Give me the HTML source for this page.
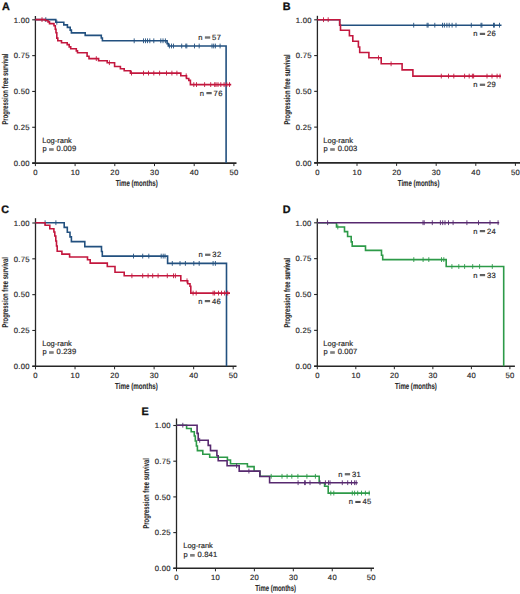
<!DOCTYPE html>
<html><head><meta charset="utf-8"><style>
html,body{margin:0;padding:0;background:#fff;}
svg{display:block;font-family:"Liberation Sans", sans-serif;text-rendering:geometricPrecision;}
</style></head><body>
<svg width="520" height="594" viewBox="0 0 520 594">
<rect width="520" height="594" fill="#fff"/>
<text x="2.0" y="9.5" font-size="10.8" font-weight="bold" fill="#111" stroke="#111" stroke-width="0.3">A</text>
<line x1="35.4" y1="16.0" x2="35.4" y2="163.1" stroke="#262626" stroke-width="1.3"/>
<line x1="32.20" y1="163.1" x2="236.5" y2="163.1" stroke="#262626" stroke-width="1.6"/>
<line x1="32.20" y1="19.80" x2="35.4" y2="19.80" stroke="#262626" stroke-width="1.1"/>
<text x="29.80" y="22.55" font-size="7.7" text-anchor="end" fill="#2a2a2a" stroke="#2a2a2a" stroke-width="0.18" letter-spacing="0.3">1.00</text>
<line x1="32.20" y1="55.62" x2="35.4" y2="55.62" stroke="#262626" stroke-width="1.1"/>
<text x="29.80" y="58.38" font-size="7.7" text-anchor="end" fill="#2a2a2a" stroke="#2a2a2a" stroke-width="0.18" letter-spacing="0.3">0.75</text>
<line x1="32.20" y1="91.45" x2="35.4" y2="91.45" stroke="#262626" stroke-width="1.1"/>
<text x="29.80" y="94.20" font-size="7.7" text-anchor="end" fill="#2a2a2a" stroke="#2a2a2a" stroke-width="0.18" letter-spacing="0.3">0.50</text>
<line x1="32.20" y1="127.27" x2="35.4" y2="127.27" stroke="#262626" stroke-width="1.1"/>
<text x="29.80" y="130.02" font-size="7.7" text-anchor="end" fill="#2a2a2a" stroke="#2a2a2a" stroke-width="0.18" letter-spacing="0.3">0.25</text>
<line x1="32.20" y1="163.10" x2="35.4" y2="163.10" stroke="#262626" stroke-width="1.1"/>
<text x="29.80" y="165.85" font-size="7.7" text-anchor="end" fill="#2a2a2a" stroke="#2a2a2a" stroke-width="0.18" letter-spacing="0.3">0.00</text>
<line x1="35.40" y1="163.1" x2="35.40" y2="166.1" stroke="#262626" stroke-width="1.0"/>
<text x="35.55" y="175.00" font-size="7.7" text-anchor="middle" fill="#2a2a2a" stroke="#2a2a2a" stroke-width="0.18" letter-spacing="0.3">0</text>
<line x1="75.10" y1="163.1" x2="75.10" y2="166.1" stroke="#262626" stroke-width="1.0"/>
<text x="75.25" y="175.00" font-size="7.7" text-anchor="middle" fill="#2a2a2a" stroke="#2a2a2a" stroke-width="0.18" letter-spacing="0.3">10</text>
<line x1="114.80" y1="163.1" x2="114.80" y2="166.1" stroke="#262626" stroke-width="1.0"/>
<text x="114.95" y="175.00" font-size="7.7" text-anchor="middle" fill="#2a2a2a" stroke="#2a2a2a" stroke-width="0.18" letter-spacing="0.3">20</text>
<line x1="154.50" y1="163.1" x2="154.50" y2="166.1" stroke="#262626" stroke-width="1.0"/>
<text x="154.65" y="175.00" font-size="7.7" text-anchor="middle" fill="#2a2a2a" stroke="#2a2a2a" stroke-width="0.18" letter-spacing="0.3">30</text>
<line x1="194.20" y1="163.1" x2="194.20" y2="166.1" stroke="#262626" stroke-width="1.0"/>
<text x="194.35" y="175.00" font-size="7.7" text-anchor="middle" fill="#2a2a2a" stroke="#2a2a2a" stroke-width="0.18" letter-spacing="0.3">40</text>
<line x1="233.90" y1="163.1" x2="233.90" y2="166.1" stroke="#262626" stroke-width="1.0"/>
<text x="234.05" y="175.00" font-size="7.7" text-anchor="middle" fill="#2a2a2a" stroke="#2a2a2a" stroke-width="0.18" letter-spacing="0.3">50</text>
<text x="115.70" y="185.80" font-size="8.6" font-weight="bold" fill="#2a2a2a" stroke="#2a2a2a" stroke-width="0.1" textLength="42.00" lengthAdjust="spacingAndGlyphs">Time (months)</text>
<text transform="translate(7.70,124.60) rotate(-90)" x="0" y="0" font-size="8.5" font-weight="bold" fill="#2a2a2a" stroke="#2a2a2a" stroke-width="0.1" textLength="71.10" lengthAdjust="spacingAndGlyphs">Progression free survival</text>
<path d="M35.4,19.6 H55.8 V22.3 H63.8 V24.9 H67.4 V27.4 H70.2 V30.1 H71.4 V32.9 H85.2 V35.4 H101.3 V38.0 H102.4 V40.8 H167.1 V43.6 H168.3 V46.0 H226.1 V163.1" fill="none" stroke="#22507f" stroke-width="1.6"/>
<line x1="45.8" y1="17.20" x2="45.8" y2="22.00" stroke="#22507f" stroke-width="0.9"/>
<line x1="56.8" y1="19.90" x2="56.8" y2="24.70" stroke="#22507f" stroke-width="0.9"/>
<line x1="134.2" y1="38.40" x2="134.2" y2="43.20" stroke="#22507f" stroke-width="0.9"/>
<line x1="143.5" y1="38.40" x2="143.5" y2="43.20" stroke="#22507f" stroke-width="0.9"/>
<line x1="145.5" y1="38.40" x2="145.5" y2="43.20" stroke="#22507f" stroke-width="0.9"/>
<line x1="147.5" y1="38.40" x2="147.5" y2="43.20" stroke="#22507f" stroke-width="0.9"/>
<line x1="149.8" y1="38.40" x2="149.8" y2="43.20" stroke="#22507f" stroke-width="0.9"/>
<line x1="153.8" y1="38.40" x2="153.8" y2="43.20" stroke="#22507f" stroke-width="0.9"/>
<line x1="160.8" y1="38.40" x2="160.8" y2="43.20" stroke="#22507f" stroke-width="0.9"/>
<line x1="163" y1="38.40" x2="163" y2="43.20" stroke="#22507f" stroke-width="0.9"/>
<line x1="165.4" y1="38.40" x2="165.4" y2="43.20" stroke="#22507f" stroke-width="0.9"/>
<line x1="169.4" y1="43.60" x2="169.4" y2="48.40" stroke="#22507f" stroke-width="0.9"/>
<line x1="171.5" y1="43.60" x2="171.5" y2="48.40" stroke="#22507f" stroke-width="0.9"/>
<line x1="173.5" y1="43.60" x2="173.5" y2="48.40" stroke="#22507f" stroke-width="0.9"/>
<line x1="181.7" y1="43.60" x2="181.7" y2="48.40" stroke="#22507f" stroke-width="0.9"/>
<line x1="185.8" y1="43.60" x2="185.8" y2="48.40" stroke="#22507f" stroke-width="0.9"/>
<line x1="186.8" y1="43.60" x2="186.8" y2="48.40" stroke="#22507f" stroke-width="0.9"/>
<line x1="194.5" y1="43.60" x2="194.5" y2="48.40" stroke="#22507f" stroke-width="0.9"/>
<line x1="199.2" y1="43.60" x2="199.2" y2="48.40" stroke="#22507f" stroke-width="0.9"/>
<line x1="212" y1="43.60" x2="212" y2="48.40" stroke="#22507f" stroke-width="0.9"/>
<line x1="213.7" y1="43.60" x2="213.7" y2="48.40" stroke="#22507f" stroke-width="0.9"/>
<line x1="215.4" y1="43.60" x2="215.4" y2="48.40" stroke="#22507f" stroke-width="0.9"/>
<line x1="220.1" y1="43.60" x2="220.1" y2="48.40" stroke="#22507f" stroke-width="0.9"/>
<path d="M35.4,19.6 H45.3 V20.5 H48 V21.9 H49.5 V23.6 H54 V25.8 H55.3 V29.2 H56 V32.7 H56.8 V38.1 H57.8 V40.8 H61.5 V42.7 H67.2 V44.6 H69.2 V46.9 H70.7 V48.8 H76.3 V50.9 H77.5 V52.8 H87.1 V56.3 H89 V58.6 H98.6 V60.8 H107.2 V62.7 H114.6 V66.5 H120.4 V68.7 H124.2 V70.8 H130.4 V73.1 H180.8 V75.8 H186.5 V78.5 H188.8 V80.4 H190.4 V84.6 H231.2" fill="none" stroke="#c3173e" stroke-width="1.6"/>
<line x1="42" y1="17.20" x2="42" y2="22.00" stroke="#c3173e" stroke-width="0.9"/>
<line x1="96.3" y1="56.20" x2="96.3" y2="61.00" stroke="#c3173e" stroke-width="0.9"/>
<line x1="109.4" y1="60.30" x2="109.4" y2="65.10" stroke="#c3173e" stroke-width="0.9"/>
<line x1="131.5" y1="70.70" x2="131.5" y2="75.50" stroke="#c3173e" stroke-width="0.9"/>
<line x1="143.5" y1="70.70" x2="143.5" y2="75.50" stroke="#c3173e" stroke-width="0.9"/>
<line x1="148.5" y1="70.70" x2="148.5" y2="75.50" stroke="#c3173e" stroke-width="0.9"/>
<line x1="153.8" y1="70.70" x2="153.8" y2="75.50" stroke="#c3173e" stroke-width="0.9"/>
<line x1="159.6" y1="70.70" x2="159.6" y2="75.50" stroke="#c3173e" stroke-width="0.9"/>
<line x1="166.5" y1="70.70" x2="166.5" y2="75.50" stroke="#c3173e" stroke-width="0.9"/>
<line x1="171.9" y1="70.70" x2="171.9" y2="75.50" stroke="#c3173e" stroke-width="0.9"/>
<line x1="176.9" y1="70.70" x2="176.9" y2="75.50" stroke="#c3173e" stroke-width="0.9"/>
<line x1="186.2" y1="73.40" x2="186.2" y2="78.20" stroke="#c3173e" stroke-width="0.9"/>
<line x1="193.8" y1="82.20" x2="193.8" y2="87.00" stroke="#c3173e" stroke-width="0.9"/>
<line x1="196.5" y1="82.20" x2="196.5" y2="87.00" stroke="#c3173e" stroke-width="0.9"/>
<line x1="204.6" y1="82.20" x2="204.6" y2="87.00" stroke="#c3173e" stroke-width="0.9"/>
<line x1="210.7" y1="82.20" x2="210.7" y2="87.00" stroke="#c3173e" stroke-width="0.9"/>
<line x1="214.7" y1="82.20" x2="214.7" y2="87.00" stroke="#c3173e" stroke-width="0.9"/>
<line x1="216" y1="82.20" x2="216" y2="87.00" stroke="#c3173e" stroke-width="0.9"/>
<line x1="218" y1="82.20" x2="218" y2="87.00" stroke="#c3173e" stroke-width="0.9"/>
<line x1="220.8" y1="82.20" x2="220.8" y2="87.00" stroke="#c3173e" stroke-width="0.9"/>
<line x1="224.1" y1="82.20" x2="224.1" y2="87.00" stroke="#c3173e" stroke-width="0.9"/>
<line x1="226.8" y1="82.20" x2="226.8" y2="87.00" stroke="#c3173e" stroke-width="0.9"/>
<line x1="229.5" y1="82.20" x2="229.5" y2="87.00" stroke="#c3173e" stroke-width="0.9"/>
<text x="198.30" y="39.80" font-size="7.6" text-anchor="start" fill="#2a2a2a" stroke="#2a2a2a" stroke-width="0.18" >n</text>
<rect x="204.90" y="36.55" width="5.3" height="0.85" fill="#2a2a2a"/>
<rect x="204.90" y="37.60" width="5.3" height="0.85" fill="#2a2a2a"/>
<text x="212.00" y="39.80" font-size="7.6" text-anchor="start" fill="#2a2a2a" stroke="#2a2a2a" stroke-width="0.18" letter-spacing="0.5">57</text>
<text x="199.80" y="95.50" font-size="7.6" text-anchor="start" fill="#2a2a2a" stroke="#2a2a2a" stroke-width="0.18" >n</text>
<rect x="206.40" y="92.25" width="5.3" height="0.85" fill="#2a2a2a"/>
<rect x="206.40" y="93.30" width="5.3" height="0.85" fill="#2a2a2a"/>
<text x="213.50" y="95.50" font-size="7.6" text-anchor="start" fill="#2a2a2a" stroke="#2a2a2a" stroke-width="0.18" letter-spacing="0.5">76</text>
<text x="42.25" y="142.50" font-size="7.5" text-anchor="start" fill="#2a2a2a" stroke="#2a2a2a" stroke-width="0.18" >Log-rank</text>
<text x="42.40" y="151.40" font-size="7.5" text-anchor="start" fill="#2a2a2a" stroke="#2a2a2a" stroke-width="0.18" >p</text>
<rect x="49.10" y="148.50" width="4.6" height="0.85" fill="#2a2a2a"/>
<rect x="49.10" y="149.65" width="4.6" height="0.85" fill="#2a2a2a"/>
<text x="56.60" y="151.40" font-size="7.6" text-anchor="start" fill="#2a2a2a" stroke="#2a2a2a" stroke-width="0.18" letter-spacing="0.15">0.009</text>
<text x="282.8" y="9.6" font-size="10.8" font-weight="bold" fill="#111" stroke="#111" stroke-width="0.3">B</text>
<line x1="317.4" y1="15.8" x2="317.4" y2="162.9" stroke="#262626" stroke-width="1.3"/>
<line x1="314.20" y1="162.9" x2="520" y2="162.9" stroke="#262626" stroke-width="1.6"/>
<line x1="314.20" y1="19.80" x2="317.4" y2="19.80" stroke="#262626" stroke-width="1.1"/>
<text x="311.80" y="22.55" font-size="7.7" text-anchor="end" fill="#2a2a2a" stroke="#2a2a2a" stroke-width="0.18" letter-spacing="0.3">1.00</text>
<line x1="314.20" y1="55.58" x2="317.4" y2="55.58" stroke="#262626" stroke-width="1.1"/>
<text x="311.80" y="58.33" font-size="7.7" text-anchor="end" fill="#2a2a2a" stroke="#2a2a2a" stroke-width="0.18" letter-spacing="0.3">0.75</text>
<line x1="314.20" y1="91.35" x2="317.4" y2="91.35" stroke="#262626" stroke-width="1.1"/>
<text x="311.80" y="94.10" font-size="7.7" text-anchor="end" fill="#2a2a2a" stroke="#2a2a2a" stroke-width="0.18" letter-spacing="0.3">0.50</text>
<line x1="314.20" y1="127.12" x2="317.4" y2="127.12" stroke="#262626" stroke-width="1.1"/>
<text x="311.80" y="129.88" font-size="7.7" text-anchor="end" fill="#2a2a2a" stroke="#2a2a2a" stroke-width="0.18" letter-spacing="0.3">0.25</text>
<line x1="314.20" y1="162.90" x2="317.4" y2="162.90" stroke="#262626" stroke-width="1.1"/>
<text x="311.80" y="165.65" font-size="7.7" text-anchor="end" fill="#2a2a2a" stroke="#2a2a2a" stroke-width="0.18" letter-spacing="0.3">0.00</text>
<line x1="317.40" y1="162.9" x2="317.40" y2="165.9" stroke="#262626" stroke-width="1.0"/>
<text x="317.55" y="174.80" font-size="7.7" text-anchor="middle" fill="#2a2a2a" stroke="#2a2a2a" stroke-width="0.18" letter-spacing="0.3">0</text>
<line x1="357.00" y1="162.9" x2="357.00" y2="165.9" stroke="#262626" stroke-width="1.0"/>
<text x="357.15" y="174.80" font-size="7.7" text-anchor="middle" fill="#2a2a2a" stroke="#2a2a2a" stroke-width="0.18" letter-spacing="0.3">10</text>
<line x1="396.60" y1="162.9" x2="396.60" y2="165.9" stroke="#262626" stroke-width="1.0"/>
<text x="396.75" y="174.80" font-size="7.7" text-anchor="middle" fill="#2a2a2a" stroke="#2a2a2a" stroke-width="0.18" letter-spacing="0.3">20</text>
<line x1="436.20" y1="162.9" x2="436.20" y2="165.9" stroke="#262626" stroke-width="1.0"/>
<text x="436.35" y="174.80" font-size="7.7" text-anchor="middle" fill="#2a2a2a" stroke="#2a2a2a" stroke-width="0.18" letter-spacing="0.3">30</text>
<line x1="475.80" y1="162.9" x2="475.80" y2="165.9" stroke="#262626" stroke-width="1.0"/>
<text x="475.95" y="174.80" font-size="7.7" text-anchor="middle" fill="#2a2a2a" stroke="#2a2a2a" stroke-width="0.18" letter-spacing="0.3">40</text>
<line x1="515.40" y1="162.9" x2="515.40" y2="165.9" stroke="#262626" stroke-width="1.0"/>
<text x="515.55" y="174.80" font-size="7.7" text-anchor="middle" fill="#2a2a2a" stroke="#2a2a2a" stroke-width="0.18" letter-spacing="0.3">50</text>
<text x="397.80" y="185.90" font-size="8.6" font-weight="bold" fill="#2a2a2a" stroke="#2a2a2a" stroke-width="0.1" textLength="41.60" lengthAdjust="spacingAndGlyphs">Time (months)</text>
<text transform="translate(290.00,124.60) rotate(-90)" x="0" y="0" font-size="8.5" font-weight="bold" fill="#2a2a2a" stroke="#2a2a2a" stroke-width="0.1" textLength="70.10" lengthAdjust="spacingAndGlyphs">Progression free survival</text>
<path d="M317.4,19.7 H339.7 V25.2 H501.5" fill="none" stroke="#22507f" stroke-width="1.6"/>
<line x1="413.7" y1="22.80" x2="413.7" y2="27.60" stroke="#22507f" stroke-width="0.9"/>
<line x1="427.1" y1="22.80" x2="427.1" y2="27.60" stroke="#22507f" stroke-width="0.9"/>
<line x1="428.1" y1="22.80" x2="428.1" y2="27.60" stroke="#22507f" stroke-width="0.9"/>
<line x1="434.8" y1="22.80" x2="434.8" y2="27.60" stroke="#22507f" stroke-width="0.9"/>
<line x1="442.5" y1="22.80" x2="442.5" y2="27.60" stroke="#22507f" stroke-width="0.9"/>
<line x1="444.4" y1="22.80" x2="444.4" y2="27.60" stroke="#22507f" stroke-width="0.9"/>
<line x1="446.9" y1="22.80" x2="446.9" y2="27.60" stroke="#22507f" stroke-width="0.9"/>
<line x1="449.2" y1="22.80" x2="449.2" y2="27.60" stroke="#22507f" stroke-width="0.9"/>
<line x1="452.1" y1="22.80" x2="452.1" y2="27.60" stroke="#22507f" stroke-width="0.9"/>
<line x1="456" y1="22.80" x2="456" y2="27.60" stroke="#22507f" stroke-width="0.9"/>
<line x1="471.3" y1="22.80" x2="471.3" y2="27.60" stroke="#22507f" stroke-width="0.9"/>
<line x1="481" y1="22.80" x2="481" y2="27.60" stroke="#22507f" stroke-width="0.9"/>
<line x1="481.9" y1="22.80" x2="481.9" y2="27.60" stroke="#22507f" stroke-width="0.9"/>
<line x1="493.5" y1="22.80" x2="493.5" y2="27.60" stroke="#22507f" stroke-width="0.9"/>
<line x1="494.4" y1="22.80" x2="494.4" y2="27.60" stroke="#22507f" stroke-width="0.9"/>
<line x1="499.5" y1="22.80" x2="499.5" y2="27.60" stroke="#22507f" stroke-width="0.9"/>
<path d="M317.4,19.7 H339.7 V25.0 H340.5 V30.2 H349.4 V35.8 H352.8 V41.2 H358.4 V47 H359.7 V52.5 H368.9 V57.8 H381.2 V63.8 H402.1 V69.9 H412.9 V76.1 H501.0" fill="none" stroke="#c3173e" stroke-width="1.6"/>
<line x1="323.5" y1="17.30" x2="323.5" y2="22.10" stroke="#c3173e" stroke-width="0.9"/>
<line x1="328.2" y1="17.30" x2="328.2" y2="22.10" stroke="#c3173e" stroke-width="0.9"/>
<line x1="378.5" y1="55.40" x2="378.5" y2="60.20" stroke="#c3173e" stroke-width="0.9"/>
<line x1="391.1" y1="61.40" x2="391.1" y2="66.20" stroke="#c3173e" stroke-width="0.9"/>
<line x1="441.3" y1="73.70" x2="441.3" y2="78.50" stroke="#c3173e" stroke-width="0.9"/>
<line x1="448.5" y1="73.70" x2="448.5" y2="78.50" stroke="#c3173e" stroke-width="0.9"/>
<line x1="453.8" y1="73.70" x2="453.8" y2="78.50" stroke="#c3173e" stroke-width="0.9"/>
<line x1="464.6" y1="73.70" x2="464.6" y2="78.50" stroke="#c3173e" stroke-width="0.9"/>
<line x1="469.2" y1="73.70" x2="469.2" y2="78.50" stroke="#c3173e" stroke-width="0.9"/>
<line x1="472.4" y1="73.70" x2="472.4" y2="78.50" stroke="#c3173e" stroke-width="0.9"/>
<line x1="473.6" y1="73.70" x2="473.6" y2="78.50" stroke="#c3173e" stroke-width="0.9"/>
<line x1="487" y1="73.70" x2="487" y2="78.50" stroke="#c3173e" stroke-width="0.9"/>
<line x1="492" y1="73.70" x2="492" y2="78.50" stroke="#c3173e" stroke-width="0.9"/>
<line x1="497.1" y1="73.70" x2="497.1" y2="78.50" stroke="#c3173e" stroke-width="0.9"/>
<line x1="500" y1="73.70" x2="500" y2="78.50" stroke="#c3173e" stroke-width="0.9"/>
<text x="473.20" y="36.10" font-size="7.6" text-anchor="start" fill="#2a2a2a" stroke="#2a2a2a" stroke-width="0.18" >n</text>
<rect x="479.80" y="32.85" width="5.3" height="0.85" fill="#2a2a2a"/>
<rect x="479.80" y="33.90" width="5.3" height="0.85" fill="#2a2a2a"/>
<text x="486.90" y="36.10" font-size="7.6" text-anchor="start" fill="#2a2a2a" stroke="#2a2a2a" stroke-width="0.18" letter-spacing="0.5">26</text>
<text x="473.20" y="87.00" font-size="7.6" text-anchor="start" fill="#2a2a2a" stroke="#2a2a2a" stroke-width="0.18" >n</text>
<rect x="479.80" y="83.75" width="5.3" height="0.85" fill="#2a2a2a"/>
<rect x="479.80" y="84.80" width="5.3" height="0.85" fill="#2a2a2a"/>
<text x="486.90" y="87.00" font-size="7.6" text-anchor="start" fill="#2a2a2a" stroke="#2a2a2a" stroke-width="0.18" letter-spacing="0.5">29</text>
<text x="323.35" y="142.60" font-size="7.5" text-anchor="start" fill="#2a2a2a" stroke="#2a2a2a" stroke-width="0.18" >Log-rank</text>
<text x="323.50" y="151.40" font-size="7.5" text-anchor="start" fill="#2a2a2a" stroke="#2a2a2a" stroke-width="0.18" >p</text>
<rect x="330.20" y="148.50" width="4.6" height="0.85" fill="#2a2a2a"/>
<rect x="330.20" y="149.65" width="4.6" height="0.85" fill="#2a2a2a"/>
<text x="337.70" y="151.40" font-size="7.6" text-anchor="start" fill="#2a2a2a" stroke="#2a2a2a" stroke-width="0.18" letter-spacing="0.15">0.003</text>
<text x="1.3" y="212.5" font-size="10.8" font-weight="bold" fill="#111" stroke="#111" stroke-width="0.3">C</text>
<line x1="35.5" y1="218.2" x2="35.5" y2="366.3" stroke="#262626" stroke-width="1.3"/>
<line x1="32.30" y1="366.3" x2="236.5" y2="366.3" stroke="#262626" stroke-width="1.6"/>
<line x1="32.30" y1="223.00" x2="35.5" y2="223.00" stroke="#262626" stroke-width="1.1"/>
<text x="29.90" y="225.75" font-size="7.7" text-anchor="end" fill="#2a2a2a" stroke="#2a2a2a" stroke-width="0.18" letter-spacing="0.3">1.00</text>
<line x1="32.30" y1="258.82" x2="35.5" y2="258.82" stroke="#262626" stroke-width="1.1"/>
<text x="29.90" y="261.57" font-size="7.7" text-anchor="end" fill="#2a2a2a" stroke="#2a2a2a" stroke-width="0.18" letter-spacing="0.3">0.75</text>
<line x1="32.30" y1="294.65" x2="35.5" y2="294.65" stroke="#262626" stroke-width="1.1"/>
<text x="29.90" y="297.40" font-size="7.7" text-anchor="end" fill="#2a2a2a" stroke="#2a2a2a" stroke-width="0.18" letter-spacing="0.3">0.50</text>
<line x1="32.30" y1="330.48" x2="35.5" y2="330.48" stroke="#262626" stroke-width="1.1"/>
<text x="29.90" y="333.23" font-size="7.7" text-anchor="end" fill="#2a2a2a" stroke="#2a2a2a" stroke-width="0.18" letter-spacing="0.3">0.25</text>
<line x1="32.30" y1="366.30" x2="35.5" y2="366.30" stroke="#262626" stroke-width="1.1"/>
<text x="29.90" y="369.05" font-size="7.7" text-anchor="end" fill="#2a2a2a" stroke="#2a2a2a" stroke-width="0.18" letter-spacing="0.3">0.00</text>
<line x1="35.50" y1="366.3" x2="35.50" y2="369.3" stroke="#262626" stroke-width="1.0"/>
<text x="35.65" y="378.20" font-size="7.7" text-anchor="middle" fill="#2a2a2a" stroke="#2a2a2a" stroke-width="0.18" letter-spacing="0.3">0</text>
<line x1="75.04" y1="366.3" x2="75.04" y2="369.3" stroke="#262626" stroke-width="1.0"/>
<text x="75.19" y="378.20" font-size="7.7" text-anchor="middle" fill="#2a2a2a" stroke="#2a2a2a" stroke-width="0.18" letter-spacing="0.3">10</text>
<line x1="114.58" y1="366.3" x2="114.58" y2="369.3" stroke="#262626" stroke-width="1.0"/>
<text x="114.73" y="378.20" font-size="7.7" text-anchor="middle" fill="#2a2a2a" stroke="#2a2a2a" stroke-width="0.18" letter-spacing="0.3">20</text>
<line x1="154.12" y1="366.3" x2="154.12" y2="369.3" stroke="#262626" stroke-width="1.0"/>
<text x="154.27" y="378.20" font-size="7.7" text-anchor="middle" fill="#2a2a2a" stroke="#2a2a2a" stroke-width="0.18" letter-spacing="0.3">30</text>
<line x1="193.66" y1="366.3" x2="193.66" y2="369.3" stroke="#262626" stroke-width="1.0"/>
<text x="193.81" y="378.20" font-size="7.7" text-anchor="middle" fill="#2a2a2a" stroke="#2a2a2a" stroke-width="0.18" letter-spacing="0.3">40</text>
<line x1="233.20" y1="366.3" x2="233.20" y2="369.3" stroke="#262626" stroke-width="1.0"/>
<text x="233.35" y="378.20" font-size="7.7" text-anchor="middle" fill="#2a2a2a" stroke="#2a2a2a" stroke-width="0.18" letter-spacing="0.3">50</text>
<text x="115.10" y="389.00" font-size="8.6" font-weight="bold" fill="#2a2a2a" stroke="#2a2a2a" stroke-width="0.1" textLength="42.60" lengthAdjust="spacingAndGlyphs">Time (months)</text>
<text transform="translate(7.70,327.60) rotate(-90)" x="0" y="0" font-size="8.5" font-weight="bold" fill="#2a2a2a" stroke="#2a2a2a" stroke-width="0.1" textLength="70.60" lengthAdjust="spacingAndGlyphs">Progression free survival</text>
<path d="M35.5,222.7 H64.2 V227.4 H67.3 V232.2 H70 V236.9 H71.4 V241.6 H84.8 V246.6 H101.5 V251.5 H102.3 V256.1 H167.6 V263.4 H226.5 V366.3" fill="none" stroke="#22507f" stroke-width="1.6"/>
<line x1="45.1" y1="220.30" x2="45.1" y2="225.10" stroke="#22507f" stroke-width="0.9"/>
<line x1="55.9" y1="220.30" x2="55.9" y2="225.10" stroke="#22507f" stroke-width="0.9"/>
<line x1="133.5" y1="253.70" x2="133.5" y2="258.50" stroke="#22507f" stroke-width="0.9"/>
<line x1="142.7" y1="253.70" x2="142.7" y2="258.50" stroke="#22507f" stroke-width="0.9"/>
<line x1="148.8" y1="253.70" x2="148.8" y2="258.50" stroke="#22507f" stroke-width="0.9"/>
<line x1="161.2" y1="253.70" x2="161.2" y2="258.50" stroke="#22507f" stroke-width="0.9"/>
<line x1="163.2" y1="253.70" x2="163.2" y2="258.50" stroke="#22507f" stroke-width="0.9"/>
<line x1="165" y1="253.70" x2="165" y2="258.50" stroke="#22507f" stroke-width="0.9"/>
<line x1="172.3" y1="261.00" x2="172.3" y2="265.80" stroke="#22507f" stroke-width="0.9"/>
<line x1="180" y1="261.00" x2="180" y2="265.80" stroke="#22507f" stroke-width="0.9"/>
<line x1="185.4" y1="261.00" x2="185.4" y2="265.80" stroke="#22507f" stroke-width="0.9"/>
<line x1="193.8" y1="261.00" x2="193.8" y2="265.80" stroke="#22507f" stroke-width="0.9"/>
<line x1="199.2" y1="261.00" x2="199.2" y2="265.80" stroke="#22507f" stroke-width="0.9"/>
<line x1="213.1" y1="261.00" x2="213.1" y2="265.80" stroke="#22507f" stroke-width="0.9"/>
<line x1="215.4" y1="261.00" x2="215.4" y2="265.80" stroke="#22507f" stroke-width="0.9"/>
<path d="M35.5,222.7 H45.1 V225.2 H49.8 V228.8 H53.9 V232.0 H54.8 V236 H55.8 V241 H56.5 V246 H57.2 V251.3 H61.9 V254.1 H69.6 V257.0 H87.5 V259.7 H90.2 V263.1 H107.3 V266.5 H115 V272.2 H124.2 V275.8 H180.8 V280.8 H187.7 V283.8 H190 V286.2 H190.8 V293.1 H230" fill="none" stroke="#c3173e" stroke-width="1.6"/>
<line x1="131.9" y1="273.40" x2="131.9" y2="278.20" stroke="#c3173e" stroke-width="0.9"/>
<line x1="142.7" y1="273.40" x2="142.7" y2="278.20" stroke="#c3173e" stroke-width="0.9"/>
<line x1="148.1" y1="273.40" x2="148.1" y2="278.20" stroke="#c3173e" stroke-width="0.9"/>
<line x1="152.7" y1="273.40" x2="152.7" y2="278.20" stroke="#c3173e" stroke-width="0.9"/>
<line x1="158.1" y1="273.40" x2="158.1" y2="278.20" stroke="#c3173e" stroke-width="0.9"/>
<line x1="167.3" y1="273.40" x2="167.3" y2="278.20" stroke="#c3173e" stroke-width="0.9"/>
<line x1="173.5" y1="273.40" x2="173.5" y2="278.20" stroke="#c3173e" stroke-width="0.9"/>
<line x1="175.4" y1="273.40" x2="175.4" y2="278.20" stroke="#c3173e" stroke-width="0.9"/>
<line x1="187" y1="278.40" x2="187" y2="283.20" stroke="#c3173e" stroke-width="0.9"/>
<line x1="193.1" y1="290.70" x2="193.1" y2="295.50" stroke="#c3173e" stroke-width="0.9"/>
<line x1="196.2" y1="290.70" x2="196.2" y2="295.50" stroke="#c3173e" stroke-width="0.9"/>
<line x1="213.1" y1="290.70" x2="213.1" y2="295.50" stroke="#c3173e" stroke-width="0.9"/>
<line x1="214.6" y1="290.70" x2="214.6" y2="295.50" stroke="#c3173e" stroke-width="0.9"/>
<line x1="218.5" y1="290.70" x2="218.5" y2="295.50" stroke="#c3173e" stroke-width="0.9"/>
<line x1="221.5" y1="290.70" x2="221.5" y2="295.50" stroke="#c3173e" stroke-width="0.9"/>
<line x1="224.6" y1="290.70" x2="224.6" y2="295.50" stroke="#c3173e" stroke-width="0.9"/>
<line x1="227.7" y1="290.70" x2="227.7" y2="295.50" stroke="#c3173e" stroke-width="0.9"/>
<text x="198.50" y="257.00" font-size="7.6" text-anchor="start" fill="#2a2a2a" stroke="#2a2a2a" stroke-width="0.18" >n</text>
<rect x="205.10" y="253.75" width="5.3" height="0.85" fill="#2a2a2a"/>
<rect x="205.10" y="254.80" width="5.3" height="0.85" fill="#2a2a2a"/>
<text x="212.20" y="257.00" font-size="7.6" text-anchor="start" fill="#2a2a2a" stroke="#2a2a2a" stroke-width="0.18" letter-spacing="0.5">32</text>
<text x="198.20" y="303.50" font-size="7.6" text-anchor="start" fill="#2a2a2a" stroke="#2a2a2a" stroke-width="0.18" >n</text>
<rect x="204.80" y="300.25" width="5.3" height="0.85" fill="#2a2a2a"/>
<rect x="204.80" y="301.30" width="5.3" height="0.85" fill="#2a2a2a"/>
<text x="211.90" y="303.50" font-size="7.6" text-anchor="start" fill="#2a2a2a" stroke="#2a2a2a" stroke-width="0.18" letter-spacing="0.5">46</text>
<text x="42.25" y="345.60" font-size="7.5" text-anchor="start" fill="#2a2a2a" stroke="#2a2a2a" stroke-width="0.18" >Log-rank</text>
<text x="42.40" y="354.40" font-size="7.5" text-anchor="start" fill="#2a2a2a" stroke="#2a2a2a" stroke-width="0.18" >p</text>
<rect x="49.10" y="351.50" width="4.6" height="0.85" fill="#2a2a2a"/>
<rect x="49.10" y="352.65" width="4.6" height="0.85" fill="#2a2a2a"/>
<text x="56.60" y="354.40" font-size="7.6" text-anchor="start" fill="#2a2a2a" stroke="#2a2a2a" stroke-width="0.18" letter-spacing="0.15">0.239</text>
<text x="282.7" y="212.5" font-size="10.8" font-weight="bold" fill="#111" stroke="#111" stroke-width="0.3">D</text>
<line x1="317.3" y1="218.6" x2="317.3" y2="366.2" stroke="#262626" stroke-width="1.3"/>
<line x1="314.10" y1="366.2" x2="514.9" y2="366.2" stroke="#262626" stroke-width="1.6"/>
<line x1="314.10" y1="222.80" x2="317.3" y2="222.80" stroke="#262626" stroke-width="1.1"/>
<text x="311.70" y="225.55" font-size="7.7" text-anchor="end" fill="#2a2a2a" stroke="#2a2a2a" stroke-width="0.18" letter-spacing="0.3">1.00</text>
<line x1="314.10" y1="258.65" x2="317.3" y2="258.65" stroke="#262626" stroke-width="1.1"/>
<text x="311.70" y="261.40" font-size="7.7" text-anchor="end" fill="#2a2a2a" stroke="#2a2a2a" stroke-width="0.18" letter-spacing="0.3">0.75</text>
<line x1="314.10" y1="294.50" x2="317.3" y2="294.50" stroke="#262626" stroke-width="1.1"/>
<text x="311.70" y="297.25" font-size="7.7" text-anchor="end" fill="#2a2a2a" stroke="#2a2a2a" stroke-width="0.18" letter-spacing="0.3">0.50</text>
<line x1="314.10" y1="330.35" x2="317.3" y2="330.35" stroke="#262626" stroke-width="1.1"/>
<text x="311.70" y="333.10" font-size="7.7" text-anchor="end" fill="#2a2a2a" stroke="#2a2a2a" stroke-width="0.18" letter-spacing="0.3">0.25</text>
<line x1="314.10" y1="366.20" x2="317.3" y2="366.20" stroke="#262626" stroke-width="1.1"/>
<text x="311.70" y="368.95" font-size="7.7" text-anchor="end" fill="#2a2a2a" stroke="#2a2a2a" stroke-width="0.18" letter-spacing="0.3">0.00</text>
<line x1="317.30" y1="366.2" x2="317.30" y2="369.2" stroke="#262626" stroke-width="1.0"/>
<text x="317.45" y="378.10" font-size="7.7" text-anchor="middle" fill="#2a2a2a" stroke="#2a2a2a" stroke-width="0.18" letter-spacing="0.3">0</text>
<line x1="355.82" y1="366.2" x2="355.82" y2="369.2" stroke="#262626" stroke-width="1.0"/>
<text x="355.97" y="378.10" font-size="7.7" text-anchor="middle" fill="#2a2a2a" stroke="#2a2a2a" stroke-width="0.18" letter-spacing="0.3">10</text>
<line x1="394.34" y1="366.2" x2="394.34" y2="369.2" stroke="#262626" stroke-width="1.0"/>
<text x="394.49" y="378.10" font-size="7.7" text-anchor="middle" fill="#2a2a2a" stroke="#2a2a2a" stroke-width="0.18" letter-spacing="0.3">20</text>
<line x1="432.86" y1="366.2" x2="432.86" y2="369.2" stroke="#262626" stroke-width="1.0"/>
<text x="433.01" y="378.10" font-size="7.7" text-anchor="middle" fill="#2a2a2a" stroke="#2a2a2a" stroke-width="0.18" letter-spacing="0.3">30</text>
<line x1="471.38" y1="366.2" x2="471.38" y2="369.2" stroke="#262626" stroke-width="1.0"/>
<text x="471.53" y="378.10" font-size="7.7" text-anchor="middle" fill="#2a2a2a" stroke="#2a2a2a" stroke-width="0.18" letter-spacing="0.3">40</text>
<line x1="509.90" y1="366.2" x2="509.90" y2="369.2" stroke="#262626" stroke-width="1.0"/>
<text x="510.05" y="378.10" font-size="7.7" text-anchor="middle" fill="#2a2a2a" stroke="#2a2a2a" stroke-width="0.18" letter-spacing="0.3">50</text>
<text x="395.10" y="389.00" font-size="8.6" font-weight="bold" fill="#2a2a2a" stroke="#2a2a2a" stroke-width="0.1" textLength="41.80" lengthAdjust="spacingAndGlyphs">Time (months)</text>
<text transform="translate(289.80,327.60) rotate(-90)" x="0" y="0" font-size="8.5" font-weight="bold" fill="#2a2a2a" stroke="#2a2a2a" stroke-width="0.1" textLength="69.80" lengthAdjust="spacingAndGlyphs">Progression free survival</text>
<path d="M317.3,222.7 H336.5 V227 H344.5 V231.6 H347.6 V236.5 H351.2 V241.9 H352.2 V246.1 H365.5 V250.4 H381.5 V255.3 H382.7 V259.6 H446.2 V266.5 H503.7 V366.2" fill="none" stroke="#2d9a48" stroke-width="1.6"/>
<line x1="337.8" y1="224.60" x2="337.8" y2="229.40" stroke="#2d9a48" stroke-width="0.9"/>
<line x1="413.8" y1="257.20" x2="413.8" y2="262.00" stroke="#2d9a48" stroke-width="0.9"/>
<line x1="423.1" y1="257.20" x2="423.1" y2="262.00" stroke="#2d9a48" stroke-width="0.9"/>
<line x1="428.8" y1="257.20" x2="428.8" y2="262.00" stroke="#2d9a48" stroke-width="0.9"/>
<line x1="441.5" y1="257.20" x2="441.5" y2="262.00" stroke="#2d9a48" stroke-width="0.9"/>
<line x1="443.8" y1="257.20" x2="443.8" y2="262.00" stroke="#2d9a48" stroke-width="0.9"/>
<line x1="451.9" y1="264.10" x2="451.9" y2="268.90" stroke="#2d9a48" stroke-width="0.9"/>
<line x1="458.8" y1="264.10" x2="458.8" y2="268.90" stroke="#2d9a48" stroke-width="0.9"/>
<line x1="464.6" y1="264.10" x2="464.6" y2="268.90" stroke="#2d9a48" stroke-width="0.9"/>
<line x1="472.7" y1="264.10" x2="472.7" y2="268.90" stroke="#2d9a48" stroke-width="0.9"/>
<line x1="479.6" y1="264.10" x2="479.6" y2="268.90" stroke="#2d9a48" stroke-width="0.9"/>
<line x1="492.3" y1="264.10" x2="492.3" y2="268.90" stroke="#2d9a48" stroke-width="0.9"/>
<path d="M317.3,222.7 H499.2" fill="none" stroke="#57296f" stroke-width="1.6"/>
<line x1="327.6" y1="220.30" x2="327.6" y2="225.10" stroke="#57296f" stroke-width="0.9"/>
<line x1="423" y1="220.30" x2="423" y2="225.10" stroke="#57296f" stroke-width="0.9"/>
<line x1="424.2" y1="220.30" x2="424.2" y2="225.10" stroke="#57296f" stroke-width="0.9"/>
<line x1="432.3" y1="220.30" x2="432.3" y2="225.10" stroke="#57296f" stroke-width="0.9"/>
<line x1="440.4" y1="220.30" x2="440.4" y2="225.10" stroke="#57296f" stroke-width="0.9"/>
<line x1="442.7" y1="220.30" x2="442.7" y2="225.10" stroke="#57296f" stroke-width="0.9"/>
<line x1="445" y1="220.30" x2="445" y2="225.10" stroke="#57296f" stroke-width="0.9"/>
<line x1="448.5" y1="220.30" x2="448.5" y2="225.10" stroke="#57296f" stroke-width="0.9"/>
<line x1="453.1" y1="220.30" x2="453.1" y2="225.10" stroke="#57296f" stroke-width="0.9"/>
<line x1="466.9" y1="220.30" x2="466.9" y2="225.10" stroke="#57296f" stroke-width="0.9"/>
<line x1="478.5" y1="220.30" x2="478.5" y2="225.10" stroke="#57296f" stroke-width="0.9"/>
<line x1="490" y1="220.30" x2="490" y2="225.10" stroke="#57296f" stroke-width="0.9"/>
<line x1="498.1" y1="220.30" x2="498.1" y2="225.10" stroke="#57296f" stroke-width="0.9"/>
<text x="473.20" y="233.50" font-size="7.6" text-anchor="start" fill="#2a2a2a" stroke="#2a2a2a" stroke-width="0.18" >n</text>
<rect x="479.80" y="230.25" width="5.3" height="0.85" fill="#2a2a2a"/>
<rect x="479.80" y="231.30" width="5.3" height="0.85" fill="#2a2a2a"/>
<text x="486.90" y="233.50" font-size="7.6" text-anchor="start" fill="#2a2a2a" stroke="#2a2a2a" stroke-width="0.18" letter-spacing="0.5">24</text>
<text x="473.20" y="277.50" font-size="7.6" text-anchor="start" fill="#2a2a2a" stroke="#2a2a2a" stroke-width="0.18" >n</text>
<rect x="479.80" y="274.25" width="5.3" height="0.85" fill="#2a2a2a"/>
<rect x="479.80" y="275.30" width="5.3" height="0.85" fill="#2a2a2a"/>
<text x="486.90" y="277.50" font-size="7.6" text-anchor="start" fill="#2a2a2a" stroke="#2a2a2a" stroke-width="0.18" letter-spacing="0.5">33</text>
<text x="323.35" y="345.60" font-size="7.5" text-anchor="start" fill="#2a2a2a" stroke="#2a2a2a" stroke-width="0.18" >Log-rank</text>
<text x="323.50" y="354.40" font-size="7.5" text-anchor="start" fill="#2a2a2a" stroke="#2a2a2a" stroke-width="0.18" >p</text>
<rect x="330.20" y="351.50" width="4.6" height="0.85" fill="#2a2a2a"/>
<rect x="330.20" y="352.65" width="4.6" height="0.85" fill="#2a2a2a"/>
<text x="337.70" y="354.40" font-size="7.6" text-anchor="start" fill="#2a2a2a" stroke="#2a2a2a" stroke-width="0.18" letter-spacing="0.15">0.007</text>
<text x="141.6" y="414.9" font-size="10.8" font-weight="bold" fill="#111" stroke="#111" stroke-width="0.3">E</text>
<line x1="176.5" y1="418.5" x2="176.5" y2="568.3" stroke="#262626" stroke-width="1.3"/>
<line x1="173.30" y1="568.3" x2="374" y2="568.3" stroke="#262626" stroke-width="1.6"/>
<line x1="173.30" y1="425.50" x2="176.5" y2="425.50" stroke="#262626" stroke-width="1.1"/>
<text x="170.90" y="428.25" font-size="7.7" text-anchor="end" fill="#2a2a2a" stroke="#2a2a2a" stroke-width="0.18" letter-spacing="0.3">1.00</text>
<line x1="173.30" y1="461.20" x2="176.5" y2="461.20" stroke="#262626" stroke-width="1.1"/>
<text x="170.90" y="463.95" font-size="7.7" text-anchor="end" fill="#2a2a2a" stroke="#2a2a2a" stroke-width="0.18" letter-spacing="0.3">0.75</text>
<line x1="173.30" y1="496.90" x2="176.5" y2="496.90" stroke="#262626" stroke-width="1.1"/>
<text x="170.90" y="499.65" font-size="7.7" text-anchor="end" fill="#2a2a2a" stroke="#2a2a2a" stroke-width="0.18" letter-spacing="0.3">0.50</text>
<line x1="173.30" y1="532.60" x2="176.5" y2="532.60" stroke="#262626" stroke-width="1.1"/>
<text x="170.90" y="535.35" font-size="7.7" text-anchor="end" fill="#2a2a2a" stroke="#2a2a2a" stroke-width="0.18" letter-spacing="0.3">0.25</text>
<line x1="173.30" y1="568.30" x2="176.5" y2="568.30" stroke="#262626" stroke-width="1.1"/>
<text x="170.90" y="571.05" font-size="7.7" text-anchor="end" fill="#2a2a2a" stroke="#2a2a2a" stroke-width="0.18" letter-spacing="0.3">0.00</text>
<line x1="176.50" y1="568.3" x2="176.50" y2="571.3" stroke="#262626" stroke-width="1.0"/>
<text x="176.65" y="580.20" font-size="7.7" text-anchor="middle" fill="#2a2a2a" stroke="#2a2a2a" stroke-width="0.18" letter-spacing="0.3">0</text>
<line x1="215.44" y1="568.3" x2="215.44" y2="571.3" stroke="#262626" stroke-width="1.0"/>
<text x="215.59" y="580.20" font-size="7.7" text-anchor="middle" fill="#2a2a2a" stroke="#2a2a2a" stroke-width="0.18" letter-spacing="0.3">10</text>
<line x1="254.38" y1="568.3" x2="254.38" y2="571.3" stroke="#262626" stroke-width="1.0"/>
<text x="254.53" y="580.20" font-size="7.7" text-anchor="middle" fill="#2a2a2a" stroke="#2a2a2a" stroke-width="0.18" letter-spacing="0.3">20</text>
<line x1="293.32" y1="568.3" x2="293.32" y2="571.3" stroke="#262626" stroke-width="1.0"/>
<text x="293.47" y="580.20" font-size="7.7" text-anchor="middle" fill="#2a2a2a" stroke="#2a2a2a" stroke-width="0.18" letter-spacing="0.3">30</text>
<line x1="332.26" y1="568.3" x2="332.26" y2="571.3" stroke="#262626" stroke-width="1.0"/>
<text x="332.41" y="580.20" font-size="7.7" text-anchor="middle" fill="#2a2a2a" stroke="#2a2a2a" stroke-width="0.18" letter-spacing="0.3">40</text>
<line x1="371.20" y1="568.3" x2="371.20" y2="571.3" stroke="#262626" stroke-width="1.0"/>
<text x="371.35" y="580.20" font-size="7.7" text-anchor="middle" fill="#2a2a2a" stroke="#2a2a2a" stroke-width="0.18" letter-spacing="0.3">50</text>
<text x="255.30" y="591.40" font-size="8.6" font-weight="bold" fill="#2a2a2a" stroke="#2a2a2a" stroke-width="0.1" textLength="40.70" lengthAdjust="spacingAndGlyphs">Time (months)</text>
<text transform="translate(148.80,528.60) rotate(-90)" x="0" y="0" font-size="8.5" font-weight="bold" fill="#2a2a2a" stroke="#2a2a2a" stroke-width="0.1" textLength="70.50" lengthAdjust="spacingAndGlyphs">Progression free survival</text>
<path d="M176.5,425.2 H186.6 V428.5 H191.2 V431.8 H194.3 V436 H195.3 V441 H196.4 V446 H197.4 V450.6 H202.8 V454.2 H209.7 V457.2 H227.4 V460 H230.5 V463.7 H247.4 V466.6 H254.1 V471.3 H259.9 V476.3 H319.2 V482.7 H324.6 V486.2 H328.2 V493.1 H370" fill="none" stroke="#2d9a48" stroke-width="1.6"/>
<line x1="271.2" y1="473.90" x2="271.2" y2="478.70" stroke="#2d9a48" stroke-width="0.9"/>
<line x1="282" y1="473.90" x2="282" y2="478.70" stroke="#2d9a48" stroke-width="0.9"/>
<line x1="287.1" y1="473.90" x2="287.1" y2="478.70" stroke="#2d9a48" stroke-width="0.9"/>
<line x1="291.8" y1="473.90" x2="291.8" y2="478.70" stroke="#2d9a48" stroke-width="0.9"/>
<line x1="297.9" y1="473.90" x2="297.9" y2="478.70" stroke="#2d9a48" stroke-width="0.9"/>
<line x1="306.9" y1="473.90" x2="306.9" y2="478.70" stroke="#2d9a48" stroke-width="0.9"/>
<line x1="315.4" y1="473.90" x2="315.4" y2="478.70" stroke="#2d9a48" stroke-width="0.9"/>
<line x1="330.8" y1="490.70" x2="330.8" y2="495.50" stroke="#2d9a48" stroke-width="0.9"/>
<line x1="333.8" y1="490.70" x2="333.8" y2="495.50" stroke="#2d9a48" stroke-width="0.9"/>
<line x1="352.3" y1="490.70" x2="352.3" y2="495.50" stroke="#2d9a48" stroke-width="0.9"/>
<line x1="354.6" y1="490.70" x2="354.6" y2="495.50" stroke="#2d9a48" stroke-width="0.9"/>
<line x1="357.7" y1="490.70" x2="357.7" y2="495.50" stroke="#2d9a48" stroke-width="0.9"/>
<line x1="361.5" y1="490.70" x2="361.5" y2="495.50" stroke="#2d9a48" stroke-width="0.9"/>
<line x1="365.4" y1="490.70" x2="365.4" y2="495.50" stroke="#2d9a48" stroke-width="0.9"/>
<line x1="369.2" y1="490.70" x2="369.2" y2="495.50" stroke="#2d9a48" stroke-width="0.9"/>
<path d="M176.5,425.2 H197.1 V433.4 H198.2 V440.3 H208.2 V445.4 H210.5 V450.6 H216.9 V455.7 H218.2 V460.8 H227.1 V465.7 H239.2 V471.1 H259.9 V476.5 H269.6 V482.7 H357.7" fill="none" stroke="#57296f" stroke-width="1.6"/>
<line x1="182.8" y1="422.80" x2="182.8" y2="427.60" stroke="#57296f" stroke-width="0.9"/>
<line x1="199.7" y1="437.90" x2="199.7" y2="442.70" stroke="#57296f" stroke-width="0.9"/>
<line x1="236.6" y1="463.30" x2="236.6" y2="468.10" stroke="#57296f" stroke-width="0.9"/>
<line x1="248.9" y1="468.70" x2="248.9" y2="473.50" stroke="#57296f" stroke-width="0.9"/>
<line x1="298.1" y1="480.30" x2="298.1" y2="485.10" stroke="#57296f" stroke-width="0.9"/>
<line x1="304.6" y1="480.30" x2="304.6" y2="485.10" stroke="#57296f" stroke-width="0.9"/>
<line x1="305.3" y1="480.30" x2="305.3" y2="485.10" stroke="#57296f" stroke-width="0.9"/>
<line x1="310" y1="480.30" x2="310" y2="485.10" stroke="#57296f" stroke-width="0.9"/>
<line x1="320" y1="480.30" x2="320" y2="485.10" stroke="#57296f" stroke-width="0.9"/>
<line x1="325.4" y1="480.30" x2="325.4" y2="485.10" stroke="#57296f" stroke-width="0.9"/>
<line x1="328.5" y1="480.30" x2="328.5" y2="485.10" stroke="#57296f" stroke-width="0.9"/>
<line x1="330" y1="480.30" x2="330" y2="485.10" stroke="#57296f" stroke-width="0.9"/>
<line x1="342.3" y1="480.30" x2="342.3" y2="485.10" stroke="#57296f" stroke-width="0.9"/>
<line x1="347.7" y1="480.30" x2="347.7" y2="485.10" stroke="#57296f" stroke-width="0.9"/>
<line x1="351.5" y1="480.30" x2="351.5" y2="485.10" stroke="#57296f" stroke-width="0.9"/>
<line x1="354.6" y1="480.30" x2="354.6" y2="485.10" stroke="#57296f" stroke-width="0.9"/>
<line x1="356.2" y1="480.30" x2="356.2" y2="485.10" stroke="#57296f" stroke-width="0.9"/>
<text x="338.20" y="476.60" font-size="7.6" text-anchor="start" fill="#2a2a2a" stroke="#2a2a2a" stroke-width="0.18" >n</text>
<rect x="344.80" y="473.35" width="5.3" height="0.85" fill="#2a2a2a"/>
<rect x="344.80" y="474.40" width="5.3" height="0.85" fill="#2a2a2a"/>
<text x="351.90" y="476.60" font-size="7.6" text-anchor="start" fill="#2a2a2a" stroke="#2a2a2a" stroke-width="0.18" letter-spacing="0.5">31</text>
<text x="348.70" y="504.20" font-size="7.6" text-anchor="start" fill="#2a2a2a" stroke="#2a2a2a" stroke-width="0.18" >n</text>
<rect x="355.30" y="500.95" width="5.3" height="0.85" fill="#2a2a2a"/>
<rect x="355.30" y="502.00" width="5.3" height="0.85" fill="#2a2a2a"/>
<text x="362.40" y="504.20" font-size="7.6" text-anchor="start" fill="#2a2a2a" stroke="#2a2a2a" stroke-width="0.18" letter-spacing="0.5">45</text>
<text x="183.25" y="547.80" font-size="7.5" text-anchor="start" fill="#2a2a2a" stroke="#2a2a2a" stroke-width="0.18" >Log-rank</text>
<text x="183.40" y="557.30" font-size="7.5" text-anchor="start" fill="#2a2a2a" stroke="#2a2a2a" stroke-width="0.18" >p</text>
<rect x="190.10" y="554.40" width="4.6" height="0.85" fill="#2a2a2a"/>
<rect x="190.10" y="555.55" width="4.6" height="0.85" fill="#2a2a2a"/>
<text x="197.60" y="557.30" font-size="7.6" text-anchor="start" fill="#2a2a2a" stroke="#2a2a2a" stroke-width="0.18" letter-spacing="0.15">0.841</text>
</svg></body></html>
